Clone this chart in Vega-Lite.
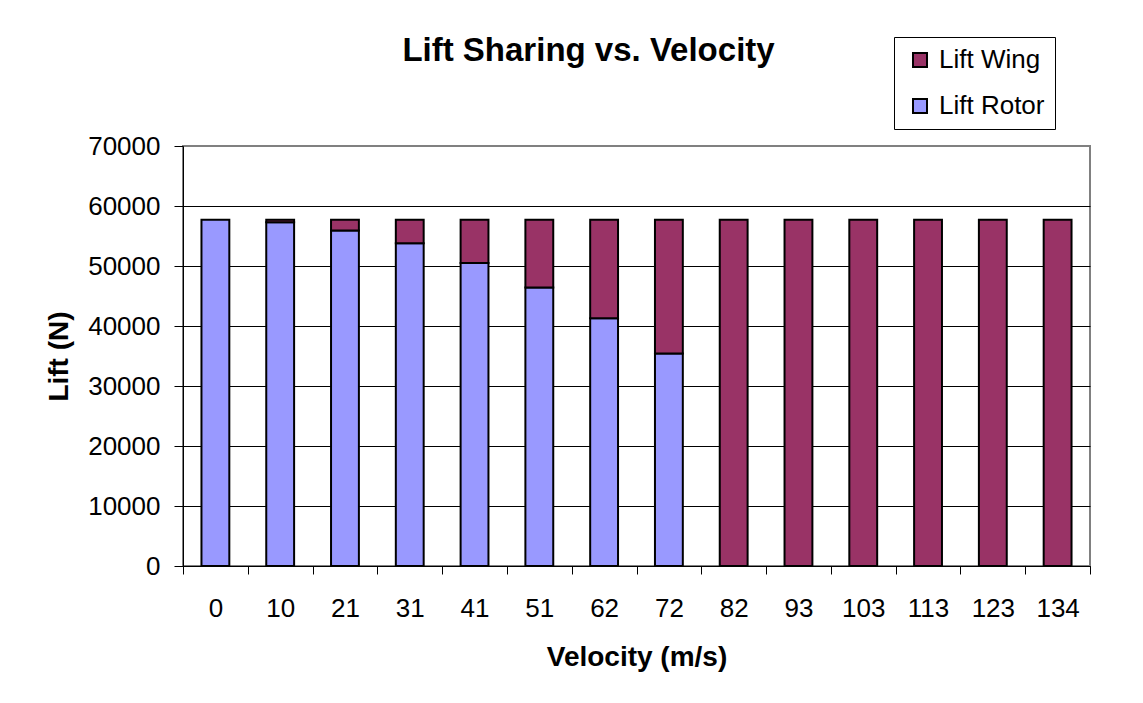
{
  "$schema": "https://vega.github.io/schema/vega-lite/v6.json",
  "autosize": {"type": "none"},
  "width": 907,
  "height": 420,
  "padding": {"left": 183, "top": 146, "right": 53, "bottom": 137},
  "background": "white",
  "title": {
    "text": "Lift Sharing vs. Velocity",
    "font": "Liberation Sans",
    "fontSize": 33,
    "fontWeight": "bold",
    "color": "black",
    "anchor": "middle",
    "frame": "group",
    "baseline": "alphabetic",
    "dx": -48,
    "offset": -57
  },
  "data": {
    "values": [
      {"velocity": "0", "series": "Lift Rotor", "lift": 57700},
      {"velocity": "10", "series": "Lift Rotor", "lift": 57300},
      {"velocity": "10", "series": "Lift Wing", "lift": 400},
      {"velocity": "21", "series": "Lift Rotor", "lift": 55900},
      {"velocity": "21", "series": "Lift Wing", "lift": 1800},
      {"velocity": "31", "series": "Lift Rotor", "lift": 53800},
      {"velocity": "31", "series": "Lift Wing", "lift": 3900},
      {"velocity": "41", "series": "Lift Rotor", "lift": 50500},
      {"velocity": "41", "series": "Lift Wing", "lift": 7200},
      {"velocity": "51", "series": "Lift Rotor", "lift": 46400},
      {"velocity": "51", "series": "Lift Wing", "lift": 11300},
      {"velocity": "62", "series": "Lift Rotor", "lift": 41300},
      {"velocity": "62", "series": "Lift Wing", "lift": 16400},
      {"velocity": "72", "series": "Lift Rotor", "lift": 35400},
      {"velocity": "72", "series": "Lift Wing", "lift": 22300},
      {"velocity": "82", "series": "Lift Wing", "lift": 57700},
      {"velocity": "93", "series": "Lift Wing", "lift": 57700},
      {"velocity": "103", "series": "Lift Wing", "lift": 57700},
      {"velocity": "113", "series": "Lift Wing", "lift": 57700},
      {"velocity": "123", "series": "Lift Wing", "lift": 57700},
      {"velocity": "134", "series": "Lift Wing", "lift": 57700}
    ]
  },
  "mark": {"type": "bar", "stroke": "black", "strokeWidth": 2, "width": {"band": 0.43}},
  "encoding": {
    "x": {
      "field": "velocity",
      "type": "ordinal",
      "sort": null,
      "scale": {"paddingInner": 0, "paddingOuter": 0},
      "axis": {
        "title": "Velocity (m/s)",
        "labelAngle": 0,
        "tickBand": "extent",
        "grid": false,
        "tickSize": 8,
        "labelPadding": 21,
        "titlePadding": 22
      }
    },
    "y": {
      "field": "lift",
      "type": "quantitative",
      "stack": "zero",
      "scale": {"domain": [0, 70000], "nice": false},
      "axis": {
        "title": "Lift (N)",
        "values": [0, 10000, 20000, 30000, 40000, 50000, 60000, 70000],
        "format": "d",
        "tickSize": 9,
        "labelPadding": 14,
        "titlePadding": 14,
        "gridColor": {"condition": {"test": "datum.value === 70000", "value": "#808080"}, "value": "black"},
        "gridWidth": 1
      }
    },
    "color": {
      "field": "series",
      "type": "nominal",
      "scale": {"domain": ["Lift Wing", "Lift Rotor"], "range": ["#993366", "#9999FF"]},
      "legend": {
        "title": null,
        "orient": "none",
        "legendX": 711,
        "legendY": -109,
        "strokeColor": "black",
        "padding": 10,
        "symbolOffset": 3,
        "symbolType": "square",
        "symbolSize": 196,
        "symbolStrokeColor": "black",
        "symbolStrokeWidth": 2,
        "symbolOpacity": 1,
        "labelOffset": 6,
        "rowPadding": 20,
        "labelFont": "Liberation Sans",
        "labelFontSize": 26,
        "labelColor": "black"
      }
    },
    "order": {"field": "series", "sort": "ascending"}
  },
  "config": {
    "view": {"stroke": "#808080", "strokeWidth": 2},
    "axis": {
      "labelFont": "Liberation Sans",
      "labelFontSize": 26,
      "labelColor": "black",
      "titleFont": "Liberation Sans",
      "titleFontSize": 28,
      "titleFontWeight": "bold",
      "titleColor": "black",
      "domainColor": "black",
      "domainWidth": 1,
      "tickColor": "black",
      "tickWidth": 1
    }
  }
}
